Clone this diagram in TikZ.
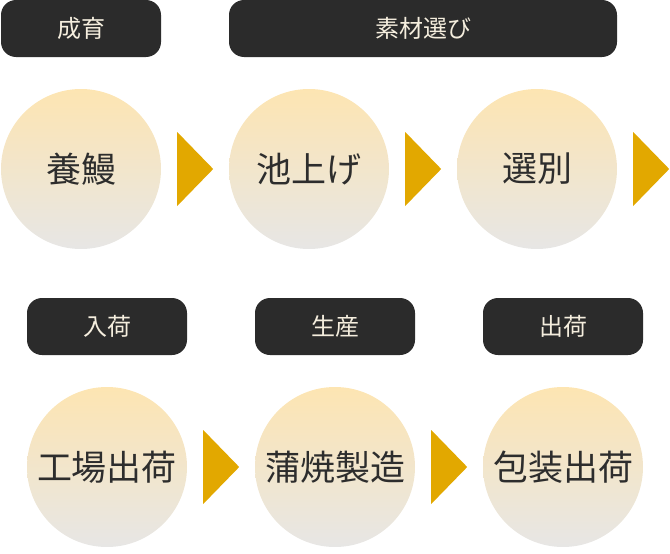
\documentclass[tikz,border=0pt]{standalone}
\usepackage{fontspec}
\newfontfamily\cjk{Noto Sans CJK JP}
\usetikzlibrary{calc}
\definecolor{labelbg}{RGB}{43,43,43}
\definecolor{labeltext}{RGB}{245,238,222}
\definecolor{circtop}{RGB}{253,229,178}
\definecolor{circbot}{RGB}{231,230,229}
\definecolor{arrowc}{RGB}{226,168,0}
\definecolor{maintext}{RGB}{45,45,45}
\tikzset{
  stagelabel/.style={fill=labelbg, rounded corners=15pt, minimum height=57pt, inner sep=0pt,
    text=labeltext, font=\cjk\fontsize{24}{24}\selectfont},
  stepcircle/.style={circle, minimum size=160pt, inner sep=0pt, top color=circtop, bottom color=circbot,
    draw=none, text=maintext, font=\cjk\fontsize{35}{35}\selectfont},
  arrowtri/.style={fill=arrowc}
}
\newcommand{\tri}[1]{\fill[arrowtri] ($(#1.east)+(16,-37)$) -- ($(#1.east)+(52,0)$) -- ($(#1.east)+(16,37)$) -- cycle;}
\newcommand{\lowtxt}[1]{\raisebox{-4pt}{#1}}
\begin{document}
\begin{tikzpicture}[x=1pt,y=-1pt]
\useasboundingbox (0,0) rectangle (670,554);
% top row
\node[stagelabel, minimum width=160pt] (l1) at (81,28.5) {\lowtxt{成育}};
\node[stagelabel, minimum width=388pt] (l2) at (423,28.5) {\lowtxt{素材選び}};
\node[stepcircle] (c1) at (81,169) {\raisebox{-2pt}{養鰻}};
\node[stepcircle] (c2) at (309,169) {\raisebox{-2pt}{池上げ}};
\node[stepcircle] (c3) at (537,169) {\raisebox{-2pt}{選別}};
\tri{c1}
\tri{c2}
\tri{c3}
% bottom row
\node[stagelabel, minimum width=160pt] (l3) at (107,326.5) {\lowtxt{入荷}};
\node[stagelabel, minimum width=160pt] (l4) at (335,326.5) {\lowtxt{生産}};
\node[stagelabel, minimum width=160pt] (l5) at (563,326.5) {\lowtxt{出荷}};
\node[stepcircle] (c4) at (107,467) {\raisebox{-2pt}{工場出荷}};
\node[stepcircle] (c5) at (335,467) {\raisebox{-2pt}{蒲焼製造}};
\node[stepcircle] (c6) at (563,467) {\raisebox{-2pt}{包装出荷}};
\tri{c4}
\tri{c5}
\end{tikzpicture}
\end{document}
